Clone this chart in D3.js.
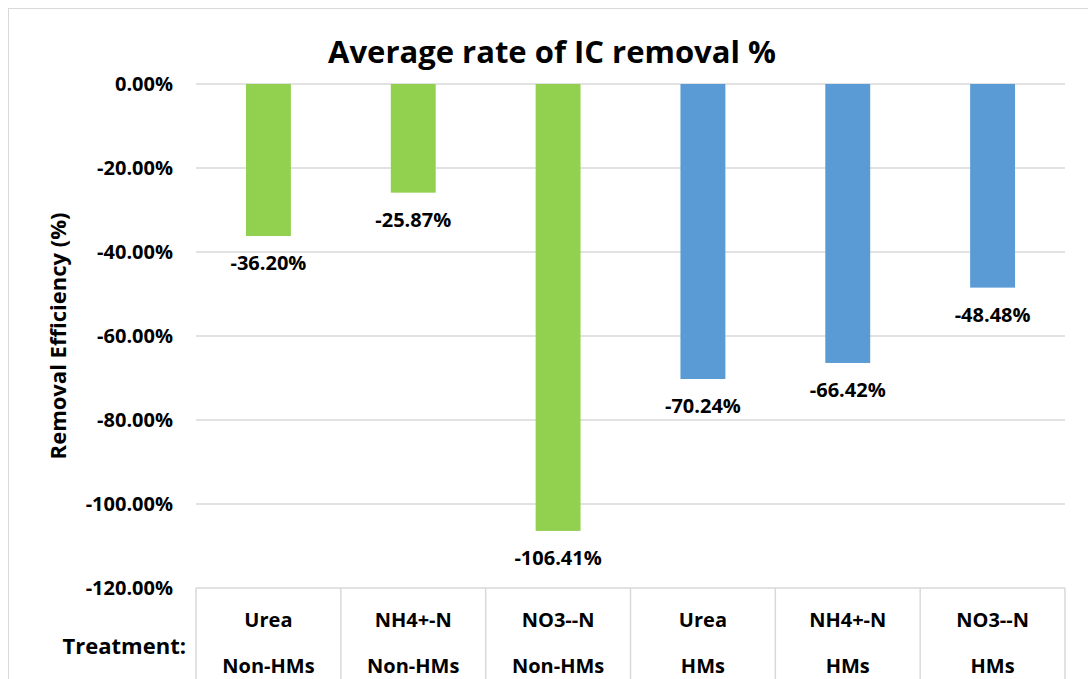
<!DOCTYPE html>
<html><head><meta charset="utf-8">
<script src="https://cdn.jsdelivr.net/npm/d3@7"></script>
<style>body{margin:0;background:#fff;} text{font-family:"Open Sans",Lato,sans-serif;font-weight:bold;fill:#000;}</style>
</head><body><svg id="c" width="1088" height="679"></svg>
<script>
const categories = ["Urea|Non-HMs","NH4+-N|Non-HMs","NO3--N|Non-HMs","Urea|HMs","NH4+-N|HMs","NO3--N|HMs"];
const values = [-36.20,-25.87,-106.41,-70.24,-66.42,-48.48];
const groups = ["Non-HMs","Non-HMs","Non-HMs","HMs","HMs","HMs"];
const yTicks = [0,-20,-40,-60,-80,-100,-120];
const colors = {"Non-HMs":"#92D050","HMs":"#5B9BD5"};

const fmt = v => v.toFixed(2) + "%";
const svg = d3.select("#c");
const L=196, R=1065, T=84, B=588;
svg.append("rect").attr("x",8.5).attr("y",8.5).attr("width",1100).attr("height",700).attr("fill","#fff").attr("stroke","#d9d9d9");

const x = d3.scaleBand().domain(categories).range([L,R]).paddingInner(0.69).paddingOuter(0.345);
const y = d3.scaleLinear().domain([-120,0]).range([B,T]);

svg.append("text").attr("x",552).attr("y",63).attr("text-anchor","middle").attr("font-size",31).text("Average rate of IC removal %");

// gridlines
svg.append("g").selectAll("line").data(yTicks).join("line")
 .attr("x1",L).attr("x2",R).attr("y1",d=>y(d)).attr("y2",d=>y(d)).attr("stroke","#d9d9d9").attr("stroke-width",1.5);

// y tick labels
svg.append("g").selectAll("text").data(yTicks).join("text")
 .attr("x",173).attr("y",d=>y(d)).attr("dy","0.35em").attr("text-anchor","end").attr("font-size",20)
 .text(d=>fmt(d));

svg.append("text").attr("transform",`translate(58,${(T+B)/2}) rotate(-90)`).attr("dy","0.35em").attr("text-anchor","middle").attr("font-size",22).text("Removal Efficiency (%)");

// bars
svg.append("g").selectAll("rect").data(categories).join("rect")
 .attr("x",d=>x(d)).attr("width",x.bandwidth())
 .attr("y",y(0)).attr("height",(d,i)=>y(values[i])-y(0))
 .attr("fill",(d,i)=>colors[groups[i]]);

svg.append("g").selectAll("text").data(categories).join("text")
 .attr("x",d=>x(d)+x.bandwidth()/2).attr("y",(d,i)=>y(values[i])+27).attr("dy","0.35em")
 .attr("text-anchor","middle").attr("font-size",20)
 .text((d,i)=>fmt(values[i]));

// category table
const half = (x.step()-x.bandwidth())/2;
const seps = categories.map(c=>x(c)-half);
seps.push(R);
svg.append("g").selectAll("line").data(seps).join("line")
 .attr("x1",d=>d).attr("x2",d=>d).attr("y1",B).attr("y2",679).attr("stroke","#d9d9d9").attr("stroke-width",1.5);
const cat = svg.append("g").selectAll("g").data(categories).join("g");
cat.append("text").attr("x",d=>x(d)+x.bandwidth()/2).attr("y",620).attr("dy","0.35em").attr("text-anchor","middle").attr("font-size",20).text(d=>d.split("|")[0]);
cat.append("text").attr("x",d=>x(d)+x.bandwidth()/2).attr("y",666).attr("dy","0.35em").attr("text-anchor","middle").attr("font-size",20).text(d=>d.split("|")[1]);
svg.append("text").attr("x",186).attr("y",646).attr("dy","0.35em").attr("text-anchor","end").attr("font-size",22).text("Treatment:");
</script></body></html>
